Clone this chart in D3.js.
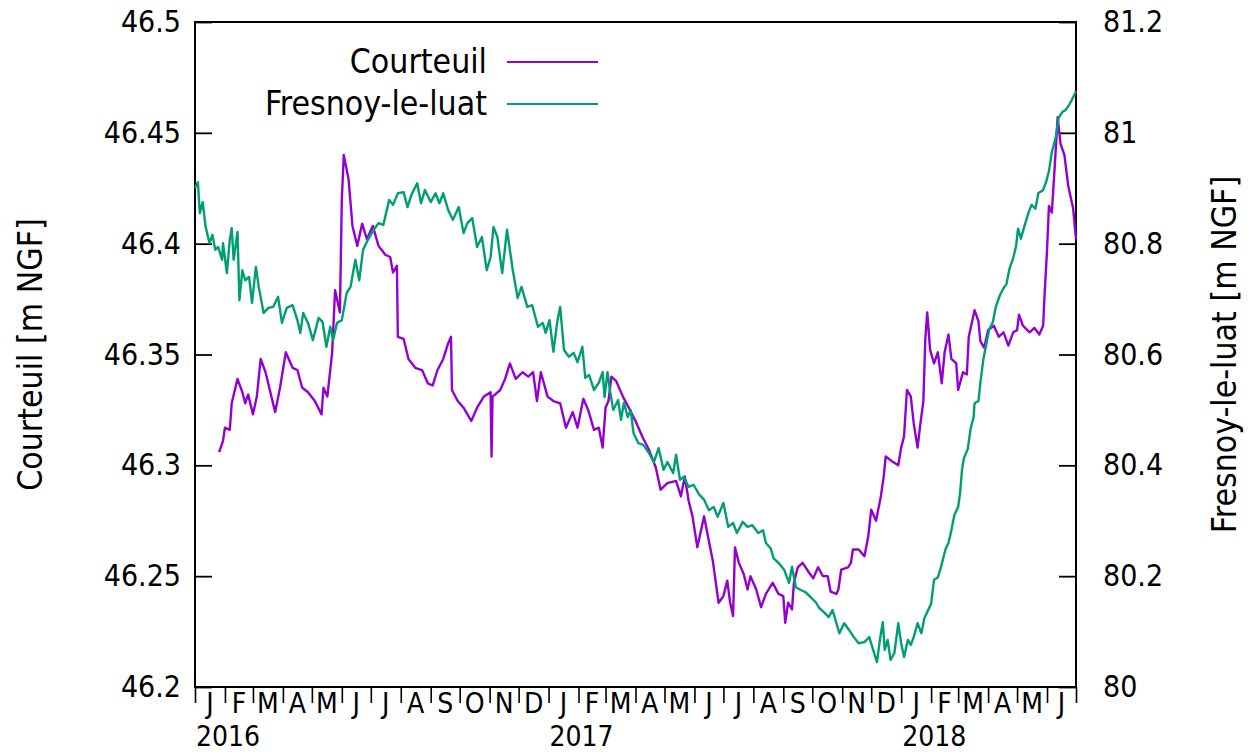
<!DOCTYPE html>
<html>
<head>
<meta charset="utf-8">
<script src="https://cdn.jsdelivr.net/npm/d3@7"></script>
<style>
  body { margin: 0; background: #fff; }
  svg text { font-family: "DejaVu Sans", sans-serif; font-stretch: condensed; fill: #000; }
</style>
</head>
<body>
<div id="chart"></div>
<script>
// water levels, [days since 2016-01-01, level in m NGF]
const courteuil = [
  [25,46.306],[29,46.311],[31,46.317],[36,46.316],[38,46.328],[44,46.339],[49,46.333],[52,46.328],
  [55,46.332],[60,46.323],[64,46.331],[68,46.348],[73,46.342],[83,46.324],[88,46.335],[94,46.351],
  [101,46.344],[106,46.343],[111,46.335],[117,46.333],[124,46.329],[131,46.323],[133,46.335],[137,46.331],
  [140,46.343],[142,46.351],[145,46.379],[148,46.373],[150,46.369],[152,46.420],[154,46.440],[159,46.429],
  [163,46.408],[168,46.399],[173,46.409],[178,46.402],[184,46.408],[190,46.399],[197,46.395],[202,46.394],
  [205,46.387],[209,46.390],[210,46.358],[216,46.357],[221,46.348],[228,46.344],[235,46.343],[241,46.337],
  [246,46.336],[251,46.343],[257,46.348],[262,46.355],[265,46.358],[266,46.334],[272,46.329],[278,46.326],
  [286,46.320],[292,46.326],[299,46.331],[306,46.333],[307,46.304],[308,46.331],[316,46.334],[321,46.339],
  [326,46.346],[332,46.339],[339,46.342],[345,46.340],[350,46.342],[354,46.329],[358,46.342],[365,46.331],
  [371,46.329],[378,46.328],[384,46.317],[391,46.324],[396,46.317],[402,46.330],[407,46.325],[413,46.316],
  [418,46.317],[422,46.308],[425,46.326],[428,46.329],[431,46.340],[436,46.338],[443,46.331],[449,46.326],
  [456,46.320],[463,46.313],[470,46.307],[477,46.299],[482,46.289],[489,46.292],[498,46.293],[503,46.286],
  [507,46.295],[511,46.284],[515,46.277],[520,46.263],[527,46.277],[531,46.268],[536,46.257],[542,46.238],
  [547,46.241],[551,46.248],[554,46.238],[557,46.232],[559,46.263],[563,46.256],[568,46.251],[572,46.244],
  [575,46.250],[581,46.244],[586,46.236],[591,46.242],[598,46.247],[604,46.242],[609,46.241],[611,46.229],
  [614,46.238],[618,46.235],[620,46.247],[624,46.254],[629,46.256],[635,46.252],[640,46.249],[645,46.254],
  [650,46.250],[655,46.250],[658,46.243],[664,46.242],[666,46.244],[669,46.253],[676,46.254],[679,46.256],
  [681,46.262],[687,46.262],[693,46.259],[697,46.268],[700,46.280],[705,46.275],[710,46.286],[713,46.295],
  [715,46.304],[721,46.302],[728,46.300],[731,46.308],[734,46.313],[737,46.334],[741,46.331],[744,46.319],
  [748,46.308],[751,46.319],[754,46.329],[756,46.357],[758,46.369],[761,46.352],[765,46.346],[769,46.351],
  [773,46.337],[776,46.351],[780,46.359],[783,46.348],[788,46.346],[790,46.334],[795,46.342],[799,46.341],
  [801,46.358],[807,46.370],[811,46.365],[813,46.356],[817,46.353],[821,46.361],[827,46.363],[832,46.358],
  [837,46.360],[842,46.354],[847,46.360],[851,46.361],[853,46.368],[857,46.363],[864,46.360],[869,46.362],
  [874,46.359],[878,46.363],[879,46.373],[882,46.397],[884,46.417],[887,46.414],[890,46.435],[893,46.457],
  [896,46.445],[900,46.440],[904,46.426],[909,46.416],[912,46.402]
];

const fresnoy = [
  [0,80.900],[3,80.911],[5,80.855],[8,80.875],[11,80.830],[15,80.801],[18,80.816],[21,80.789],
  [24,80.794],[28,80.771],[29,80.801],[33,80.747],[36,80.807],[38,80.828],[40,80.771],[44,80.821],
  [46,80.698],[49,80.752],[52,80.734],[56,80.740],[59,80.693],[63,80.758],[66,80.722],[71,80.675],
  [76,80.684],[81,80.686],[86,80.704],[90,80.657],[95,80.684],[101,80.689],[106,80.662],[109,80.639],
  [112,80.675],[117,80.657],[122,80.626],[128,80.666],[132,80.659],[136,80.614],[140,80.650],[143,80.626],
  [147,80.657],[152,80.662],[157,80.711],[161,80.722],[166,80.771],[170,80.734],[174,80.789],[179,80.807],
  [185,80.825],[190,80.837],[195,80.834],[201,80.879],[205,80.870],[210,80.891],[216,80.893],[220,80.866],
  [224,80.888],[230,80.909],[234,80.873],[238,80.897],[244,80.875],[249,80.891],[253,80.873],[257,80.891],
  [262,80.861],[267,80.843],[273,80.866],[278,80.819],[282,80.837],[287,80.846],[292,80.794],[297,80.812],
  [302,80.752],[306,80.776],[309,80.830],[313,80.812],[318,80.747],[323,80.825],[329,80.752],[334,80.702],
  [338,80.722],[344,80.686],[349,80.689],[355,80.650],[360,80.657],[363,80.639],[367,80.662],[371,80.605],
  [375,80.659],[378,80.686],[382,80.608],[387,80.596],[392,80.603],[396,80.586],[401,80.614],[404,80.558],
  [408,80.563],[413,80.536],[418,80.549],[422,80.568],[424,80.523],[427,80.568],[430,80.530],[433,80.500],
  [438,80.518],[441,80.482],[444,80.513],[448,80.487],[451,80.500],[454,80.458],[459,80.440],[464,80.437],
  [470,80.422],[475,80.406],[480,80.431],[485,80.392],[489,80.406],[495,80.386],[498,80.419],[502,80.374],
  [506,80.379],[511,80.361],[516,80.365],[522,80.347],[527,80.338],[532,80.319],[537,80.325],[541,80.307],
  [547,80.332],[552,80.289],[557,80.296],[561,80.278],[567,80.298],[572,80.289],[577,80.292],[583,80.278],
  [588,80.283],[591,80.260],[596,80.250],[599,80.232],[604,80.224],[610,80.211],[615,80.188],[618,80.217],
  [622,80.180],[627,80.175],[632,80.171],[638,80.161],[643,80.152],[646,80.143],[651,80.135],[656,80.126],
  [660,80.139],[664,80.115],[667,80.097],[672,80.115],[677,80.103],[682,80.090],[687,80.079],[693,80.081],
  [698,80.090],[702,80.067],[706,80.045],[709,80.085],[712,80.117],[714,80.067],[717,80.085],[720,80.049],
  [724,80.061],[728,80.115],[731,80.079],[734,80.054],[738,80.085],[741,80.076],[744,80.090],[748,80.115],
  [752,80.097],[755,80.124],[759,80.139],[762,80.150],[765,80.193],[769,80.198],[772,80.215],[777,80.249],
  [780,80.260],[783,80.283],[786,80.310],[790,80.325],[792,80.350],[794,80.392],[796,80.413],[800,80.430],
  [803,80.467],[806,80.487],[807,80.512],[811,80.516],[813,80.549],[816,80.590],[819,80.617],[822,80.644],
  [826,80.659],[829,80.686],[833,80.706],[837,80.720],[840,80.727],[843,80.754],[847,80.774],[850,80.796],
  [852,80.827],[855,80.809],[858,80.828],[863,80.857],[866,80.870],[870,80.863],[873,80.891],[878,80.897],
  [881,80.911],[884,80.931],[887,80.965],[891,80.992],[894,81.027],[898,81.038],[901,81.041],[904,81.048],
  [907,81.057],[912,81.075]
];

const leftTicks = [46.2, 46.25, 46.3, 46.35, 46.4, 46.45, 46.5];
const rightTicks = [80, 80.2, 80.4, 80.6, 80.8, 81, 81.2];
const monthLetters = ["J","F","M","A","M","J","J","A","S","O","N","D"];
const years = [2016, 2017, 2018];

const width = 1254, height = 753;
const margin = {top: 22, right: 178, bottom: 66, left: 195};

const svg = d3.select("#chart").append("svg")
  .attr("width", width)
  .attr("height", height);

const start = new Date(2016, 0, 1), end = new Date(2018, 6, 1);
const day = d => d3.timeDay.offset(start, d);

const x = d3.scaleTime()
  .domain([start, end])
  .range([margin.left, width - margin.right]);
const yLeft = d3.scaleLinear()
  .domain([46.2, 46.5])
  .range([height - margin.bottom, margin.top]);
const yRight = d3.scaleLinear()
  .domain([80, 81.2])
  .range([height - margin.bottom, margin.top]);

const x0 = margin.left, x1 = width - margin.right;
const yTop = margin.top, yBot = height - margin.bottom;

// axes
const months = d3.timeMonth.range(start, d3.timeDay.offset(end, 1));

svg.append("g")
  .attr("transform", `translate(0,${yBot})`)
  .call(d3.axisBottom(x).tickValues(months).tickSize(16).tickFormat(""))
  .call(g => g.select(".domain").remove())
  .selectAll("line").attr("stroke-width", 1.6);

svg.append("g")
  .attr("font-size", 28)
  .selectAll("text")
  .data(months.slice(0, -1))
  .join("text")
  .attr("x", d => (x(d) + x(d3.timeMonth.offset(d, 1))) / 2)
  .attr("y", 713)
  .attr("text-anchor", "middle")
  .text(d => monthLetters[d.getMonth()]);

svg.append("g")
  .attr("font-size", 28)
  .selectAll("text")
  .data(years)
  .join("text")
  .attr("x", d => x(new Date(d, 0, 1)) + 1)
  .attr("y", 746)
  .text(d => d);

svg.append("g")
  .attr("transform", `translate(${x0},0)`)
  .call(d3.axisLeft(yLeft).tickValues(leftTicks).tickSize(-17).tickPadding(14).tickFormat(d => d))
  .call(g => g.select(".domain").remove())
  .call(g => g.selectAll("line").attr("stroke-width", 1.8))
  .call(g => g.selectAll("text").attr("font-size", 30).attr("font-family", null));

svg.append("g")
  .attr("transform", `translate(${x1},0)`)
  .call(d3.axisRight(yRight).tickValues(rightTicks).tickSize(-17).tickPadding(27).tickFormat(d => d))
  .call(g => g.select(".domain").remove())
  .call(g => g.selectAll("line").attr("stroke-width", 1.8))
  .call(g => g.selectAll("text").attr("font-size", 30).attr("font-family", null));

// frame
svg.append("rect")
  .attr("x", x0).attr("y", yTop)
  .attr("width", x1 - x0).attr("height", yBot - yTop)
  .attr("fill", "none")
  .attr("stroke", "#000")
  .attr("stroke-width", 2);

// axis titles
svg.append("text")
  .attr("transform", `translate(30,${(yTop + yBot) / 2}) rotate(-90)`)
  .attr("text-anchor", "middle")
  .attr("dominant-baseline", "central")
  .attr("font-size", 33.5)
  .text("Courteuil [m NGF]");

svg.append("text")
  .attr("transform", `translate(1224,${(yTop + yBot) / 2}) rotate(-90)`)
  .attr("text-anchor", "middle")
  .attr("dominant-baseline", "central")
  .attr("font-size", 33.5)
  .text("Fresnoy-le-luat [m NGF]");

// series
const lineLeft = d3.line().x(d => x(day(d[0]))).y(d => yLeft(d[1]));
const lineRight = d3.line().x(d => x(day(d[0]))).y(d => yRight(d[1]));

svg.append("path")
  .datum(courteuil)
  .attr("fill", "none")
  .attr("stroke", "#9400d3")
  .attr("stroke-width", 2.4)
  .attr("stroke-linejoin", "round")
  .attr("d", lineLeft);

svg.append("path")
  .datum(fresnoy)
  .attr("fill", "none")
  .attr("stroke", "#009e73")
  .attr("stroke-width", 2.4)
  .attr("stroke-linejoin", "round")
  .attr("d", lineRight);

// legend
const legend = [
  {name: "Courteuil", color: "#9400d3", y: 62},
  {name: "Fresnoy-le-luat", color: "#009e73", y: 104}
];
const lg = svg.append("g").selectAll("g").data(legend).join("g");
lg.append("text")
  .attr("x", 487)
  .attr("y", d => d.y + 11)
  .attr("text-anchor", "end")
  .attr("font-size", 33.5)
  .text(d => d.name);
lg.append("line")
  .attr("x1", 507).attr("x2", 598)
  .attr("y1", d => d.y).attr("y2", d => d.y)
  .attr("stroke", d => d.color)
  .attr("stroke-width", 2);
</script>
</body>
</html>
